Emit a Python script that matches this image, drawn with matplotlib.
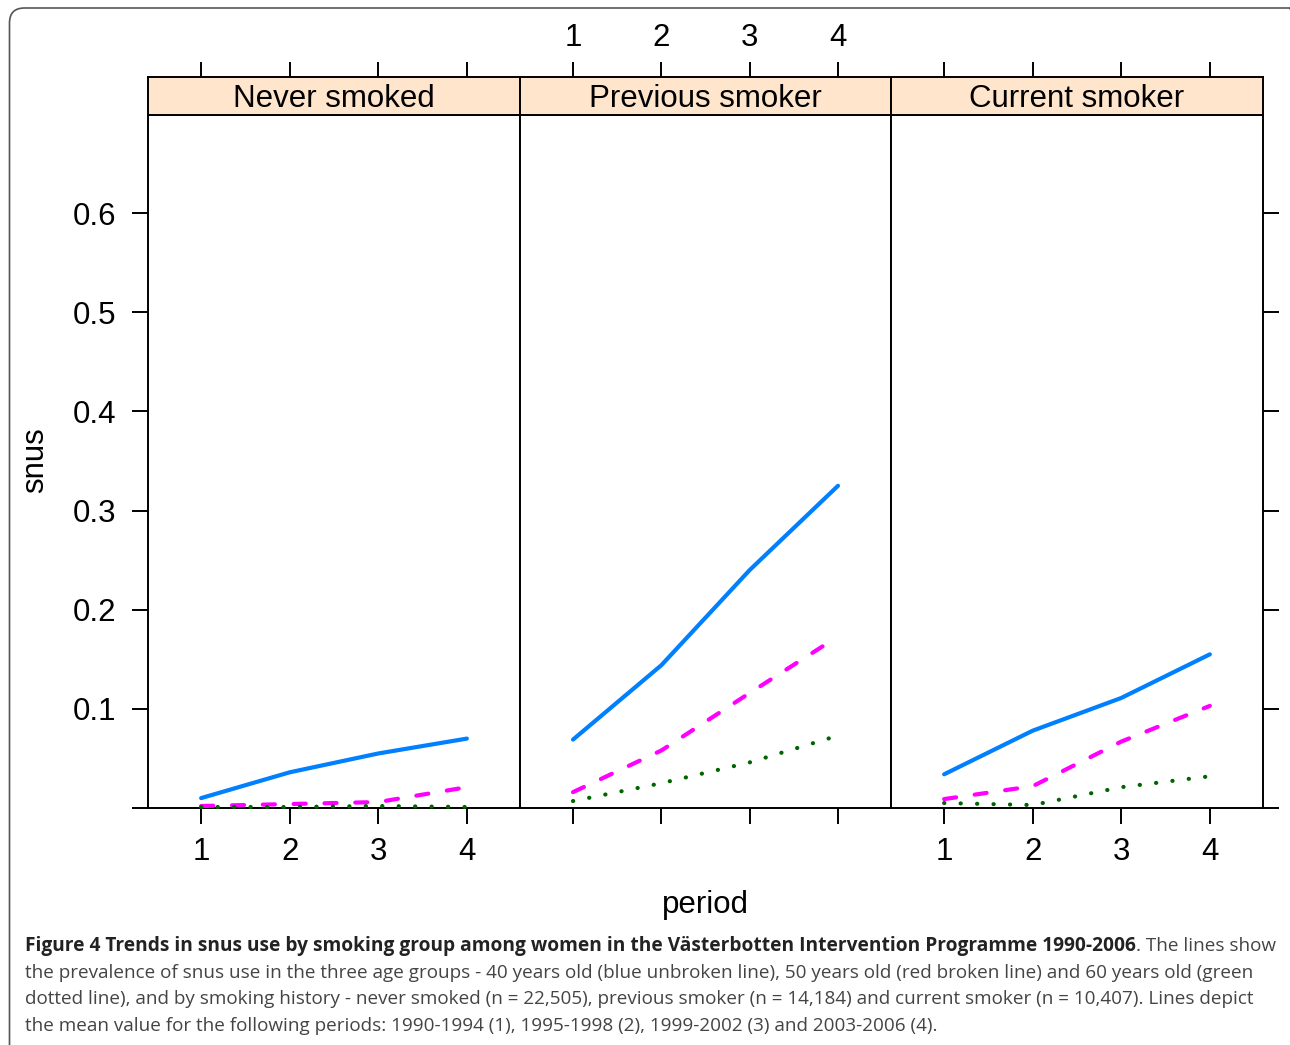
import matplotlib
matplotlib.use("Agg")
import matplotlib.pyplot as plt
from matplotlib.patches import FancyBboxPatch
import numpy as np

# ---------------- data ----------------
periods = [1, 2, 3, 4]
groups = ["Never smoked", "Previous smoker", "Current smoker"]
age40 = {"Never smoked": [0.010, 0.036, 0.055, 0.070],
         "Previous smoker": [0.069, 0.144, 0.240, 0.325],
         "Current smoker": [0.034, 0.078, 0.111, 0.155]}
age50 = {"Never smoked": [0.002, 0.004, 0.006, 0.021],
         "Previous smoker": [0.016, 0.058, 0.116, 0.173],
         "Current smoker": [0.009, 0.022, 0.067, 0.103]}
age60 = {"Never smoked": [0.001, 0.001, 0.002, 0.001],
         "Previous smoker": [0.007, 0.025, 0.046, 0.073],
         "Current smoker": [0.005, 0.003, 0.021, 0.032]}
ytick_vals = [0.0, 0.1, 0.2, 0.3, 0.4, 0.5, 0.6]
ytick_labels = ["", "0.1", "0.2", "0.3", "0.4", "0.5", "0.6"]
xlabel = "period"
ylabel = "snus"
caption_bold = ("Figure 4 Trends in snus use by smoking group among women in the "
                "Västerbotten Intervention Programme 1990-2006")
caption_lines = [
    ". The lines show",
    "the prevalence of snus use in the three age groups - 40 years old (blue unbroken line), "
    "50 years old (red broken line) and 60 years old (green",
    "dotted line), and by smoking history - never smoked (n = 22,505), previous smoker "
    "(n = 14,184) and current smoker (n = 10,407). Lines depict",
    "the mean value for the following periods: 1990-1994 (1), 1995-1998 (2), "
    "1999-2002 (3) and 2003-2006 (4).",
]

# ---------------- figure ----------------
W, H = 1290, 1045
fig = plt.figure(figsize=(W / 100, H / 100), dpi=100)
plt.rcParams["font.family"] = ["Liberation Sans", "DejaVu Sans"]
FS = 22.5

def fx(px):
    return px / W

def fy(py):
    return 1 - py / H

panel_x = [148, 520, 891, 1263]
top_px, bot_px = 115, 808
strip_top = 77

blue, magenta, green = "#0080FF", "#FF00FF", "#006400"

for i, g in enumerate(groups):
    x0, x1 = panel_x[i], panel_x[i + 1]
    ax = fig.add_axes([fx(x0), fy(bot_px), fx(x1 - x0), (bot_px - top_px) / H])
    ax.plot(periods, age40[g], color=blue, lw=3.0, solid_capstyle="round", clip_on=False, zorder=3)
    ax.plot(periods, age50[g], color=magenta, lw=3.0, dash_capstyle="round",
            linestyle=(0, (2.9, 4.5)), clip_on=False, zorder=3)
    ax.plot(periods, age60[g], color=green, lw=3.0, dash_capstyle="round",
            linestyle=(0, (0.05, 3.9)), clip_on=False, zorder=3)
    ax.set_xlim(0.4, 4.6)
    ax.set_ylim(0, 0.699)
    for s in ax.spines.values():
        s.set_linewidth(1.4)
    ax.set_xticks(periods)
    ax.tick_params(axis="x", direction="out", length=11.5, width=1.4, pad=9.5,
                   labelsize=FS, bottom=True, top=False, labelbottom=(i != 1))
    ax.set_yticks(ytick_vals)
    ax.set_yticklabels(ytick_labels)
    ax.tick_params(axis="y", direction="out", length=11.5, width=1.4, pad=11, labelsize=FS,
                   left=(i == 0), labelleft=(i == 0), right=(i == 2), labelright=False)
    # strip
    sx = fig.add_axes([fx(x0), fy(top_px), fx(x1 - x0), (top_px - strip_top) / H])
    sx.set_facecolor("#FFE5CC")
    sx.set_xlim(0.4, 4.6)
    sx.set_ylim(0, 1)
    sx.set_yticks([])
    sx.set_xticks(periods)
    for s in sx.spines.values():
        s.set_linewidth(1.4)
    sx.tick_params(axis="x", direction="out", length=11.0, width=1.4, pad=6, labelsize=FS,
                   bottom=False, labelbottom=False, top=True, labeltop=(i == 1))
    sx.text(0.5, 0.42, g, transform=sx.transAxes, ha="center", va="center", fontsize=FS)

fig.text(fx(35), fy(460), ylabel, rotation=90, ha="center", va="center", fontsize=FS)
fig.text(fx(705), fy(905), xlabel, ha="center", va="center", fontsize=FS)

# outer rounded border
box = FancyBboxPatch((0.095, -0.3), 12.95, 10.37 + 0.3, boxstyle="round,pad=0,rounding_size=0.15",
                     transform=fig.dpi_scale_trans, fill=False, edgecolor="#555555", lw=1.2,
                     clip_on=False)
fig.add_artist(box)

# caption
cap_font = ["Open Sans", "DejaVu Sans"]
line_y = [946, 973, 999, 1026]
x_start = 25

fig.canvas.draw()
renderer = fig.canvas.get_renderer()

def fit_size(text, target_px, weight="normal"):
    t = fig.text(fx(x_start), 0.5, text, fontsize=13.5, family=cap_font, fontweight=weight)
    w = t.get_window_extent(renderer).width
    t.remove()
    return 13.5 * target_px / w

size_n = fit_size(caption_lines[1], 1253 - x_start)
size_b = fit_size(caption_bold, 1137 - x_start, weight="bold")

tb = fig.text(fx(x_start), fy(line_y[0]), caption_bold, fontsize=size_b, family=cap_font,
              fontweight="bold", color="#222222", va="center", ha="left")
bb = tb.get_window_extent(renderer)
fig.text(bb.x1 / W, fy(line_y[0]), caption_lines[0], fontsize=size_n, family=cap_font,
         color="#444444", va="center", ha="left")
for k in range(1, 4):
    fig.text(fx(x_start), fy(line_y[k]), caption_lines[k], fontsize=size_n,
             family=cap_font, color="#444444", va="center", ha="left")

fig.savefig("out.png", dpi=100)
